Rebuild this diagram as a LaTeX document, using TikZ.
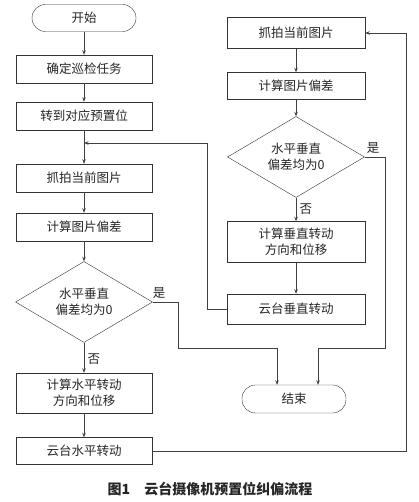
\documentclass[tikz,border=0pt]{standalone}
\usepackage{fontspec}
\setmainfont{Noto Sans CJK SC}
\usetikzlibrary{shapes.geometric,arrows.meta}

\begin{document}
\begin{tikzpicture}[x=1pt,y=-1pt,
					every node/.style={text=black!85,font=\fontsize{12.5}{16}\selectfont},
					box/.style={draw=black!80,minimum width=136pt,minimum height=28pt,inner sep=0pt,align=center},
					term/.style={draw=black!80,rounded corners=13.5pt,minimum width=104pt,minimum height=27pt,inner sep=0pt},
					decision/.style={draw=black!80,diamond,aspect=1.7,minimum width=137pt,minimum height=81pt,inner sep=0pt,align=center},
					line/.style={draw=black!75,line width=0.8pt,-{Stealth[length=4.5pt,width=3.5pt]}},
					plain/.style={draw=black!75,line width=0.8pt}]
	\useasboundingbox (0,0) rectangle (419,502);
	\node[term] (start) at (84,18) {开始};
	\node[box] (task) at (84,69) {确定巡检任务};
	\node[box] (preset) at (84,116) {转到对应预置位};
	\coordinate (joinA) at (84,143);
	\node[box] (snapA) at (84,178) {抓拍当前图片};
	\node[box] (diffA) at (84,227) {计算图片偏差};
	\node[decision] (decA) at (84,302) {水平垂直\\偏差均为0};
	\node[box,minimum height=40pt] (calcH) at (84,393) {计算水平转动\\方向和位移};
	\node[box,minimum height=27pt] (rotH) at (84,451) {云台水平转动};
	\node[box,minimum width=138pt,minimum height=31pt] (snapB) at (296,33) {抓拍当前图片};
	\node[box,minimum width=138pt,minimum height=27pt] (diffB) at (296,86) {计算图片偏差};
	\node[decision] (decB) at (296,157) {水平垂直\\偏差均为0};
	\node[box,minimum width=138pt,minimum height=41pt] (calcV) at (296,242) {计算垂直转动\\方向和位移};
	\node[box,minimum width=138pt,minimum height=30pt] (rotV) at (296,309) {云台垂直转动};
	\node[term,minimum height=28pt] (end) at (294,399) {结束};
	\node (caption) at (210,489) {\fontsize{14}{16}\selectfont\bfseries 图1\quad 云台摄像机预置位纠偏流程};
	\draw[line] (start) -- (task);
	\draw[line] (task) -- (preset);
	\draw[line] (preset) -- (snapA);
	\draw[line] (snapA) -- (diffA);
	\draw[line] (diffA) -- (decA);
	\draw[line] (decA) -- node[right,pos=0.55] {否} (calcH);
	\draw[line] (calcH) -- (rotH);
	\draw[line] (rotH.east) -| ([xshift=41pt]snapB.east) -- (snapB.east);
	\draw[line] (snapB) -- (diffB);
	\draw[line] (diffB) -- (decB);
	\draw[line] (decB) -- node[right,pos=0.5] {否} (calcV);
	\draw[line] (calcV) -- (rotV);
	\draw[line] (rotV.west) -- ++(-19,0) |- (joinA);
	\draw[line] (decA.east) -- node[above,pos=0.25] {是} ++(26,0) |- ([xshift=-17pt,yshift=36pt]end.north) -- ([xshift=-17pt]end.north);
	\draw[line] (decB.east) -- node[above,pos=0.4] {是} ++(21,0) |- ([xshift=24pt,yshift=36pt]end.north) -- ([xshift=24pt]end.north);
\end{tikzpicture}
\end{document}
